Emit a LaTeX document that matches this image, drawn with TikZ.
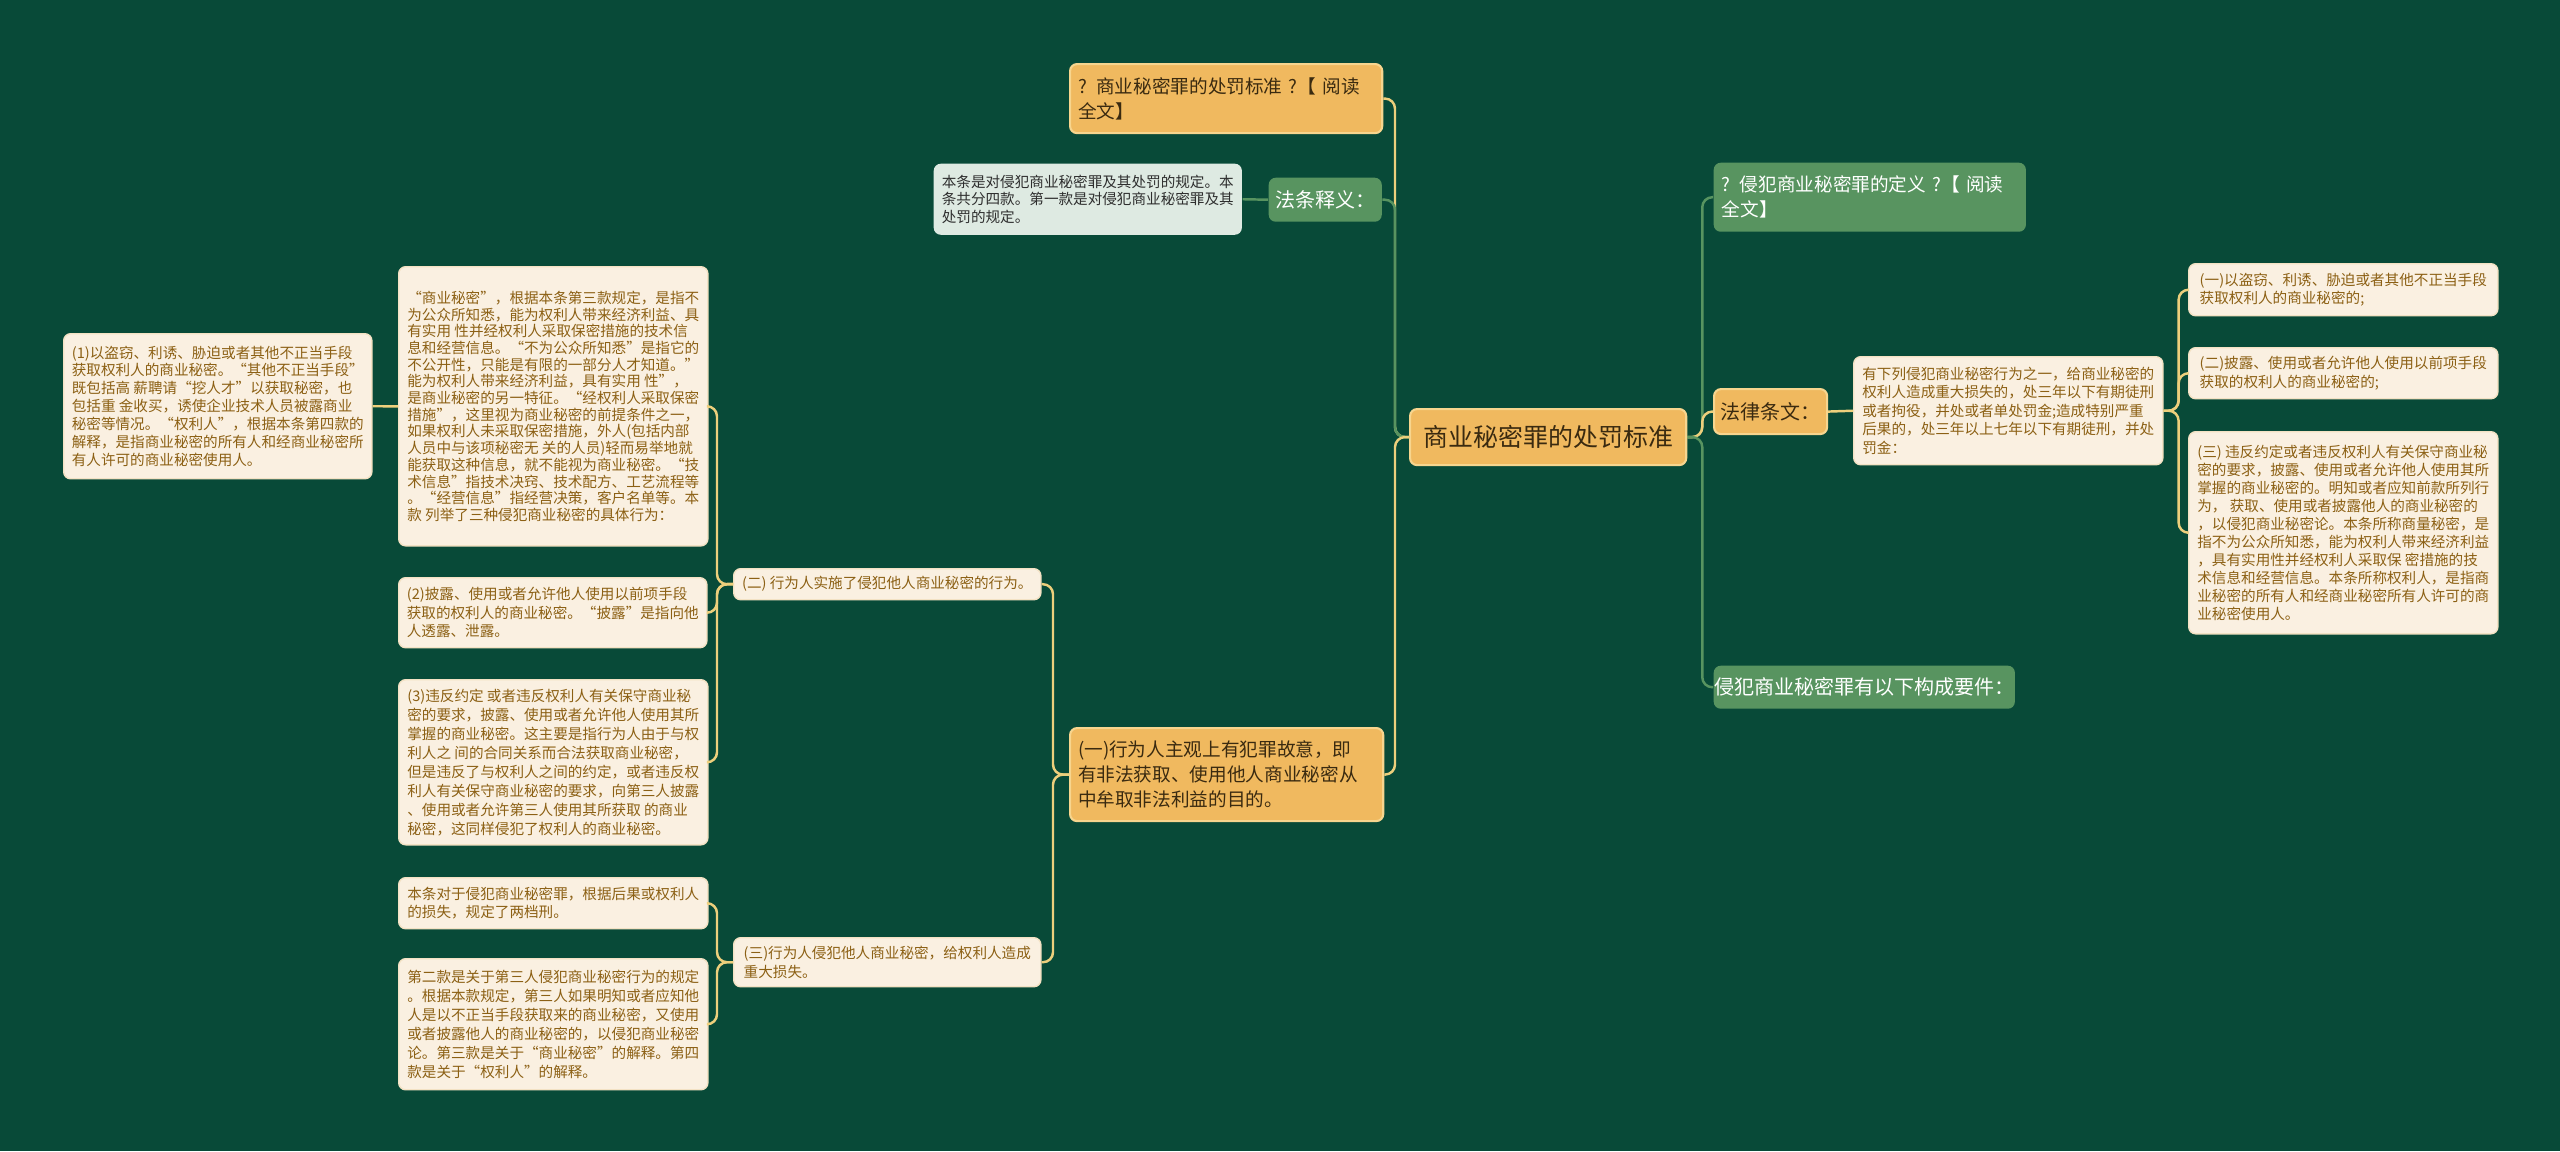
\documentclass[tikz,border=0pt]{standalone}
\usepackage{fontspec}
\setmainfont{Noto Sans CJK SC}
\definecolor{bg}{HTML}{084A38}
\definecolor{orfill}{HTML}{F0B95F}
\definecolor{orline}{HTML}{F7D58E}
\definecolor{ortext}{HTML}{3A2A10}
\definecolor{gnfill}{HTML}{589460}
\definecolor{crfill}{HTML}{FAF0E1}
\definecolor{crline}{HTML}{F3E2C4}
\definecolor{crtext}{HTML}{8C6014}
\definecolor{grfill}{HTML}{DEEAE2}
\definecolor{grtext}{HTML}{2E2E2E}
\definecolor{lkyellow}{HTML}{EDCF7C}
\newcommand{\leaffont}[1]{\fontsize{4.15pt}{#1}\selectfont}

\begin{document}
\begin{tikzpicture}[x=0.01cm,y=-0.01cm,
  box/.style={anchor=north west,rounded corners=0.07cm,inner sep=0pt,align=left},
  mainbox/.style={box,fill=orfill,draw=orline,line width=0.6pt,text=ortext,font=\fontsize{5.3pt}{7.1pt}\selectfont},
  greenbox/.style={box,fill=gnfill,text=white,font=\fontsize{5.3pt}{7.1pt}\selectfont},
  leaf/.style={box,fill=crfill,draw=crline,line width=0.4pt,text=crtext,font=\leaffont{5.26pt}},
  note/.style={box,fill=grfill,text=grtext,font=\leaffont{5.0pt}},
  link/.style={draw=lkyellow,line width=0.7pt,rounded corners=0.1cm},
  glink/.style={link,draw=gnfill}]
\fill[bg] (0,0) rectangle (2560,1151);
\useasboundingbox (0,0) rectangle (2560,1151);

% centre
\node[mainbox,align=center,minimum width=2.76cm,minimum height=0.56cm,font=\fontsize{7.1pt}{8pt}\selectfont] (root) at (1409,408) {商业秘密罪的处罚标准};

% left of the centre
\node[mainbox,text width=2.96cm,minimum width=3.12cm,minimum height=0.69cm] (qa1) at (1069,63) {? 商业秘密罪的处罚标准 ?【 阅读\\全文】};
\node[greenbox,align=center,minimum width=1.13cm,minimum height=0.44cm,font=\fontsize{5.69pt}{7pt}\selectfont] (shiyi) at (1268,177) {法条释义：};
\node[note,minimum width=3.08cm,minimum height=0.71cm] (shiyibox) at (933,163) {本条是对侵犯商业秘密罪及其处罚的规定。本\\条共分四款。第一款是对侵犯商业秘密罪及其\\处罚的规定。};
\node[mainbox,text width=2.97cm,minimum width=3.13cm,minimum height=0.93cm] (yi) at (1069,727) {(一)行为人主观上有犯罪故意，即\\有非法获取、使用他人商业秘密从\\中牟取非法利益的目的。};

\node[leaf,minimum width=3.07cm,minimum height=0.31cm] (er) at (733,568) {(二) 行为人实施了侵犯他人商业秘密的行为。};
\node[leaf,minimum width=3.07cm,minimum height=0.49cm] (san) at (733,937) {(三)行为人侵犯他人商业秘密，给权利人造成\\重大损失。};

\node[leaf,minimum width=3.09cm,minimum height=2.79cm,font=\leaffont{4.75pt}] (secret) at (398,266) {“商业秘密”，根据本条第三款规定，是指不\\为公众所知悉，能为权利人带来经济利益、具\\有实用 性并经权利人采取保密措施的技术信\\息和经营信息。“不为公众所知悉”是指它的\\不公开性，只能是有限的一部分人才知道。”\\能为权利人带来经济利益，具有实用 性”，\\是商业秘密的另一特征。“经权利人采取保密\\措施”，这里视为商业秘密的前提条件之一，\\如果权利人未采取保密措施，外人(包括内部\\人员中与该项秘密无 关的人员)轻而易举地就\\能获取这种信息，就不能视为商业秘密。“技\\术信息”指技术决窍、技术配方、工艺流程等\\。“经营信息”指经营决策，客户名单等。本\\款 列举了三种侵犯商业秘密的具体行为：};
\node[leaf,minimum width=3.08cm,minimum height=1.45cm,font=\leaffont{5.1pt}] (one) at (63,333) {(1)以盗窃、利诱、胁迫或者其他不正当手段\\获取权利人的商业秘密。“其他不正当手段”\\既包括高 薪聘请“挖人才”以获取秘密，也\\包括重 金收买，诱使企业技术人员被露商业\\秘密等情况。“权利人”，根据本条第四款的\\解释，是指商业秘密的所有人和经商业秘密所\\有人许可的商业秘密使用人。};
\node[leaf,minimum width=3.08cm,minimum height=0.70cm] (two) at (398,577) {(2)披露、使用或者允许他人使用以前项手段\\获取的权利人的商业秘密。“披露”是指向他\\人透露、泄露。};
\node[leaf,minimum width=3.09cm,minimum height=1.65cm,font=\leaffont{5.4pt}] (three) at (398,679) {(3)违反约定 或者违反权利人有关保守商业秘\\密的要求，披露、使用或者允许他人使用其所\\掌握的商业秘密。这主要是指行为人由于与权\\利人之 间的合同关系而合法获取商业秘密，\\但是违反了与权利人之间的约定，或者违反权\\利人有关保守商业秘密的要求，向第三人披露\\、使用或者允许第三人使用其所获取 的商业\\秘密，这同样侵犯了权利人的商业秘密。};
\node[leaf,minimum width=3.09cm,minimum height=0.51cm] (benzhao) at (398,877) {本条对于侵犯商业秘密罪，根据后果或权利人\\的损失，规定了两档刑。};
\node[leaf,minimum width=3.09cm,minimum height=1.31cm,font=\leaffont{5.4pt}] (dierkuan) at (398,958) {第二款是关于第三人侵犯商业秘密行为的规定\\。根据本款规定，第三人如果明知或者应知他\\人是以不正当手段获取来的商业秘密，又使用\\或者披露他人的商业秘密的，以侵犯商业秘密\\论。第三款是关于“商业秘密”的解释。第四\\款是关于“权利人”的解释。};

% right of the centre
\node[greenbox,text width=2.96cm,minimum width=3.12cm,minimum height=0.69cm] (dingyi) at (1713,162) {? 侵犯商业秘密罪的定义 ?【 阅读\\全文】};
\node[mainbox,align=center,minimum width=1.13cm,minimum height=0.45cm,font=\fontsize{5.69pt}{7pt}\selectfont] (tiaowen) at (1713,388) {法律条文：};
\node[leaf,minimum width=3.09cm,minimum height=1.08cm] (tiaowenbox) at (1853,356) {有下列侵犯商业秘密行为之一，给商业秘密的\\权利人造成重大损失的，处三年以下有期徒刑\\或者拘役，并处或者单处罚金;造成特别严重\\后果的，处三年以上七年以下有期徒刑，并处\\罚金：};
\node[leaf,minimum width=3.09cm,minimum height=0.52cm] (ra) at (2188,263) {(一)以盗窃、利诱、胁迫或者其他不正当手段\\获取权利人的商业秘密的;};
\node[leaf,minimum width=3.09cm,minimum height=0.51cm] (rb) at (2188,347) {(二)披露、使用或者允许他人使用以前项手段\\获取的权利人的商业秘密的;};
\node[leaf,minimum width=3.09cm,minimum height=2.02cm,font=\leaffont{5.12pt}] (rc) at (2188,431) {(三) 违反约定或者违反权利人有关保守商业秘\\密的要求，披露、使用或者允许他人使用其所\\掌握的商业秘密的。明知或者应知前款所列行\\为， 获取、使用或者披露他人的商业秘密的\\，以侵犯商业秘密论。本条所称商量秘密，是\\指不为公众所知悉，能为权利人带来经济利益\\，具有实用性并经权利人采取保 密措施的技\\术信息和经营信息。本条所称权利人，是指商\\业秘密的所有人和经商业秘密所有人许可的商\\业秘密使用人。};
\node[greenbox,minimum width=3.01cm,minimum height=0.43cm,align=center,font=\fontsize{5.69pt}{7pt}\selectfont] (yaojian) at (1713,665) {侵犯商业秘密罪有以下构成要件：};

% links
\draw[link] (root.west) -- ++(-14,0) |- (qa1.east);
\draw[glink] (root.west) -- ++(-14,0) |- (shiyi.east);
\draw[link] (root.west) -- ++(-14,0) |- (yi.east);
\draw[glink] (shiyi.west) -- (shiyibox.east);
\draw[link] (yi.west) -- ++(-16,0) |- (er.east);
\draw[link] (yi.west) -- ++(-16,0) |- (san.east);
\draw[link] (er.west) -- ++(-16,0) |- (secret.east);
\draw[link] (er.west) -- ++(-16,0) |- (two.east);
\draw[link] (er.west) -- ++(-16,0) |- (three.east);
\draw[link] (secret.west) -- (one.east);
\draw[link] (san.west) -- ++(-16,0) |- (benzhao.east);
\draw[link] (san.west) -- ++(-16,0) |- (dierkuan.east);
\draw[glink] (root.east) -- ++(15,0) |- (dingyi.west);
\draw[link] (root.east) -- ++(15,0) |- (tiaowen.west);
\draw[glink] (root.east) -- ++(15,0) |- (yaojian.west);
\draw[link] (tiaowen.east) -- (tiaowenbox.west);
\draw[link] (tiaowenbox.east) -- ++(15,0) |- (ra.west);
\draw[link] (tiaowenbox.east) -- ++(15,0) |- (rb.west);
\draw[link] (tiaowenbox.east) -- ++(15,0) |- (rc.west);
\end{tikzpicture}
\end{document}
